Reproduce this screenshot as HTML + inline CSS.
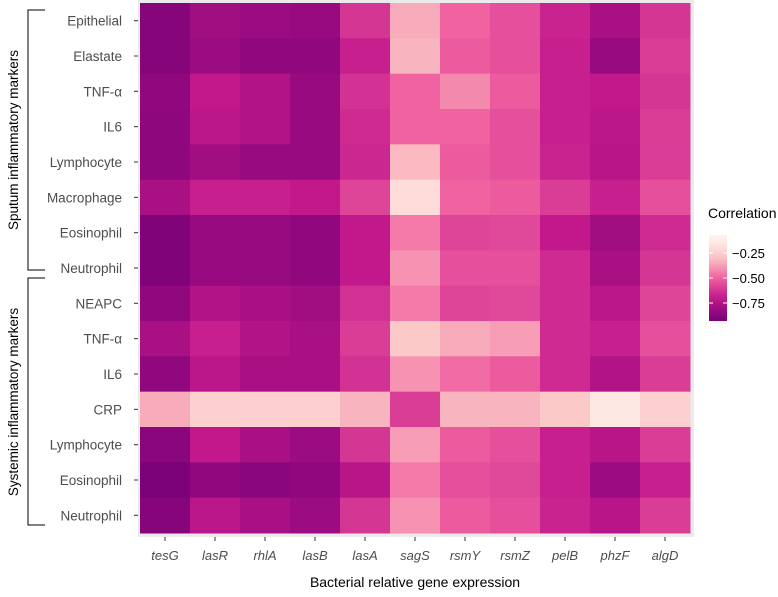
<!DOCTYPE html>
<html><head><meta charset="utf-8"><style>
body{margin:0;background:#fff;font-family:"Liberation Sans",sans-serif}
svg text{font-family:"Liberation Sans",sans-serif}
</style></head><body>
<svg id="c" width="778" height="592" xmlns="http://www.w3.org/2000/svg">
<rect x="138" y="0" width="556" height="537" fill="#ebebeb"/>
<g id="cells"></g>
<g id="ylab"></g>
<g id="xlab"></g>
<text x="415" y="587" text-anchor="middle" font-size="14" fill="#000">Bacterial relative gene expression</text>
<g stroke="#000" stroke-width="1" fill="none">
<path d="M45,10 H28 V270 H45"/></g>
<text transform="translate(18,140) rotate(-90)" text-anchor="middle" font-size="13.5">Sputum inflammatory markers</text>
<g stroke="#000" stroke-width="1" fill="none">
<path d="M45,278 H28 V525 H45"/></g>
<text transform="translate(18,402) rotate(-90)" text-anchor="middle" font-size="13.5">Systemic inflammatory markers</text>
<g>
<text x="708" y="218" font-size="14">Correlation</text>
<defs><linearGradient id="g" x1="0" y1="0" x2="0" y2="1"></linearGradient></defs>
<rect id="bar" x="709" y="235" width="18" height="86"/>
<g id="lt"></g>
</g>
</svg>
<script>
const rows=["Epithelial","Elastate","TNF-α","IL6","Lymphocyte","Macrophage","Eosinophil","Neutrophil","NEAPC","TNF-α","IL6","CRP","Lymphocyte","Eosinophil","Neutrophil"];
const cols=["tesG","lasR","rhlA","lasB","lasA","sagS","rsmY","rsmZ","pelB","phzF","algD"];
const values=[
[-0.88,-0.80,-0.82,-0.83,-0.62,-0.35,-0.50,-0.55,-0.67,-0.78,-0.62],
[-0.88,-0.82,-0.85,-0.85,-0.68,-0.33,-0.52,-0.55,-0.68,-0.83,-0.60],
[-0.85,-0.70,-0.75,-0.83,-0.63,-0.50,-0.42,-0.52,-0.68,-0.70,-0.62],
[-0.86,-0.72,-0.75,-0.83,-0.65,-0.50,-0.50,-0.55,-0.68,-0.72,-0.60],
[-0.86,-0.80,-0.83,-0.83,-0.66,-0.32,-0.52,-0.55,-0.67,-0.73,-0.60],
[-0.78,-0.68,-0.68,-0.70,-0.58,-0.20,-0.50,-0.52,-0.60,-0.68,-0.55],
[-0.90,-0.83,-0.83,-0.85,-0.70,-0.45,-0.58,-0.57,-0.70,-0.80,-0.65],
[-0.90,-0.83,-0.83,-0.85,-0.70,-0.40,-0.55,-0.55,-0.65,-0.78,-0.62],
[-0.85,-0.75,-0.78,-0.80,-0.63,-0.45,-0.58,-0.57,-0.65,-0.72,-0.58],
[-0.78,-0.68,-0.75,-0.78,-0.60,-0.28,-0.35,-0.38,-0.65,-0.68,-0.55],
[-0.85,-0.72,-0.78,-0.78,-0.63,-0.40,-0.48,-0.52,-0.65,-0.75,-0.60],
[-0.35,-0.25,-0.25,-0.25,-0.33,-0.60,-0.33,-0.33,-0.28,-0.15,-0.25],
[-0.87,-0.70,-0.78,-0.82,-0.62,-0.38,-0.52,-0.55,-0.68,-0.73,-0.60],
[-0.92,-0.85,-0.87,-0.85,-0.73,-0.45,-0.55,-0.57,-0.68,-0.82,-0.68],
[-0.88,-0.72,-0.78,-0.82,-0.62,-0.40,-0.52,-0.55,-0.67,-0.73,-0.60]];
const legendTicks=[-0.25,-0.50,-0.75];
const legendLabels=["−0.25","−0.50","−0.75"];
const NS="http://www.w3.org/2000/svg";
const x0=140,cw=50,y0=3,rh=530/15;
const xs=i=>x0+i*cw, ys=j=>y0+j*rh;
const stops=[[-0.1,[255,244,239]],[-0.3,[251,196,196]],[-0.5,[240,98,160]],[-0.7,[194,24,140]],[-0.92,[122,1,119]]];
function color(v){
 if(v>=stops[0][0])return 'rgb('+stops[0][1].join(',')+')';
 for(let k=0;k<stops.length-1;k++){const a=stops[k],b=stops[k+1];
  if(v<=a[0]&&v>=b[0]){const t=(a[0]-v)/(a[0]-b[0]);return 'rgb('+a[1].map((c,i)=>Math.round(c+(b[1][i]-c)*t)).join(',')+')';}}
 return 'rgb('+stops[stops.length-1][1].join(',')+')';
}
const cells=document.getElementById('cells');
values.forEach((r,j)=>r.forEach((v,i)=>{
 const e=document.createElementNS(NS,'rect');
 e.setAttribute('x',xs(i));e.setAttribute('y',ys(j));e.setAttribute('width',cw+0.5);e.setAttribute('height',rh+0.5);
 e.setAttribute('fill',color(v));
 
 
 cells.appendChild(e);
}));
const yl=document.getElementById('ylab');
rows.forEach((r,j)=>{
 const t=document.createElementNS(NS,'text');
 t.setAttribute('x',122);t.setAttribute('y',ys(j)+rh/2+5);t.setAttribute('text-anchor','end');
 t.setAttribute('font-size','13.5');t.setAttribute('fill','#4d4d4d');t.textContent=r;
 
 
 yl.appendChild(t);
 const l=document.createElementNS(NS,'line');
 l.setAttribute('x1',134);l.setAttribute('x2',138);l.setAttribute('y1',ys(j)+rh/2);l.setAttribute('y2',ys(j)+rh/2);l.setAttribute('stroke','#333');
 yl.appendChild(l);
});
const xl=document.getElementById('xlab');
cols.forEach((c,i)=>{
 const t=document.createElementNS(NS,'text');
 t.setAttribute('x',xs(i)+cw/2);t.setAttribute('y',560);t.setAttribute('text-anchor','middle');
 t.setAttribute('font-size','13');t.setAttribute('font-style','italic');t.setAttribute('fill','#4d4d4d');t.textContent=c;
 
 
 xl.appendChild(t);
 const l=document.createElementNS(NS,'line');
 l.setAttribute('x1',xs(i)+cw/2);l.setAttribute('x2',xs(i)+cw/2);l.setAttribute('y1',537);l.setAttribute('y2',541);l.setAttribute('stroke','#333');
 xl.appendChild(l);
});
const grad=document.getElementById('g');
const ly=v=>253+(-0.25-v)*100;
const gTop=-0.07,gBot=-0.93;
for(let k=0;k<=10;k++){const v=gTop+(gBot-gTop)*k/10;const s=document.createElementNS(NS,'stop');
 s.setAttribute('offset',k/10);s.setAttribute('stop-color',color(v));grad.appendChild(s);}
const bar=document.getElementById('bar');bar.setAttribute('y',ly(gTop));bar.setAttribute('height',ly(gBot)-ly(gTop));bar.setAttribute('fill','url(#g)');
const lt=document.getElementById('lt');
legendTicks.forEach((v,k)=>{
 const t=document.createElementNS(NS,'text');
 t.setAttribute('x',732);t.setAttribute('y',ly(v)+5);t.setAttribute('font-size','13');t.setAttribute('fill','#000');t.textContent=legendLabels[k];
 
 
 lt.appendChild(t);
 [[709,713],[723,727]].forEach(p=>{const l=document.createElementNS(NS,'line');
 l.setAttribute('x1',p[0]);l.setAttribute('x2',p[1]);l.setAttribute('y1',ly(v));l.setAttribute('y2',ly(v));l.setAttribute('stroke','#fff');lt.appendChild(l);});
});
</script>
</body></html>
